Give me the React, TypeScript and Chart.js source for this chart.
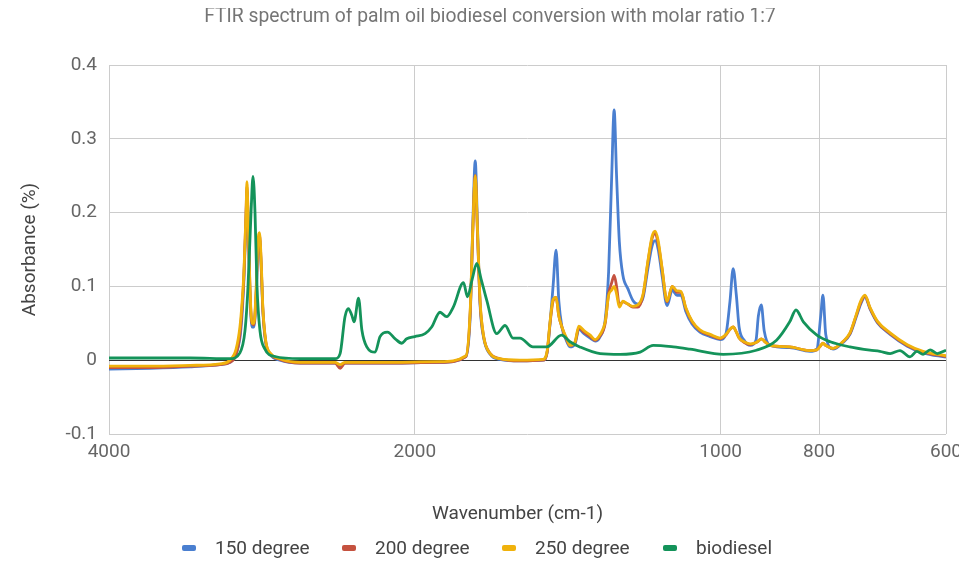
import { useEffect, useRef } from "react";
import { Chart, registerables } from "chart.js";

Chart.register(...registerables);

const TITLE = "FTIR spectrum of palm oil biodiesel conversion with molar ratio 1:7";
const X_TITLE = "Wavenumber (cm-1)";
const Y_TITLE = "Absorbance (%)";
const SERIES_NAMES = ["150 degree", "200 degree", "250 degree", "biodiesel"];
const SERIES_COLORS = ["#4a7fd0", "#c5523f", "#f0b20c", "#14935a"];
const X_TICKS = [4000, 2000, 1000, 800, 600];
const Y_TICKS = [-0.1, 0, 0.1, 0.2, 0.3, 0.4];

// wavenumbers shared by the three heated samples
const WN_HEATED = [
  4000, 3645, 3329, 3111, 3041, 2999, 2973, 2959, 2946, 2932,
  2926, 2919, 2906, 2893, 2880, 2867, 2854, 2844, 2834, 2822,
  2803, 2777, 2715, 2594, 2396, 2369, 2343, 2164, 1889, 1781,
  1764, 1754, 1744, 1735, 1725, 1711, 1686, 1649, 1576, 1496,
  1482, 1472, 1462, 1452, 1443, 1433, 1420, 1407, 1391, 1379,
  1363, 1344, 1329, 1314, 1299, 1289, 1280, 1273, 1266, 1258,
  1248, 1234, 1220, 1206, 1192, 1179, 1168, 1160, 1152, 1142,
  1129, 1116, 1104, 1094, 1082, 1067, 1048, 1024, 1001, 988,
  979, 972, 965, 959, 948, 935, 923, 918, 912, 906,
  894, 855, 817, 804, 797, 793, 788, 775, 758, 746,
  736, 728, 721, 713, 701, 681, 655, 632, 600,
];

const ABS_150 = [
  -0.012, -0.011, -0.009, -0.006, -0.003, 0.008, 0.03, 0.06, 0.11, 0.19,
  0.23, 0.19, 0.09, 0.045, 0.045, 0.08, 0.15, 0.165, 0.13, 0.065,
  0.022, 0.008, 0.0, -0.004, -0.004, -0.008, -0.004, -0.004, -0.003, 0.005,
  0.06, 0.18, 0.27, 0.18, 0.075, 0.03, 0.008, 0.001, -0.001, 0.0,
  0.01, 0.05, 0.1, 0.149, 0.08, 0.045, 0.028, 0.018, 0.022, 0.042,
  0.036, 0.03, 0.026, 0.032, 0.055, 0.12, 0.25, 0.339, 0.25, 0.16,
  0.115, 0.097, 0.081, 0.076, 0.085, 0.125, 0.155, 0.162, 0.15, 0.115,
  0.074, 0.095, 0.088, 0.088, 0.066, 0.049, 0.038, 0.032, 0.028, 0.036,
  0.08, 0.124, 0.088, 0.045, 0.027, 0.02, 0.027, 0.06, 0.075, 0.04,
  0.02, 0.017, 0.012, 0.015, 0.06, 0.088, 0.035, 0.015, 0.024, 0.035,
  0.057, 0.076, 0.086, 0.07, 0.051, 0.035, 0.019, 0.01, 0.004,
];

const ABS_200 = [
  -0.01, -0.01, -0.008, -0.006, -0.003, 0.008, 0.035, 0.07, 0.115, 0.2,
  0.235, 0.2, 0.095, 0.05, 0.048, 0.085, 0.155, 0.17, 0.135, 0.068,
  0.024, 0.009, 0.001, -0.004, -0.004, -0.011, -0.004, -0.004, -0.003, 0.005,
  0.065, 0.17, 0.25, 0.17, 0.078, 0.032, 0.009, 0.002, -0.001, 0.0,
  0.01, 0.05, 0.08, 0.085, 0.06, 0.045, 0.03, 0.02, 0.024, 0.044,
  0.038, 0.032, 0.027, 0.033, 0.05, 0.09, 0.105, 0.115, 0.1, 0.075,
  0.079, 0.076, 0.072, 0.072, 0.088, 0.133, 0.165, 0.172, 0.158, 0.124,
  0.079, 0.1, 0.092, 0.092, 0.07, 0.052, 0.04, 0.034, 0.029, 0.034,
  0.042, 0.045, 0.038, 0.03, 0.024, 0.021, 0.024, 0.026, 0.029, 0.026,
  0.02, 0.018, 0.013, 0.014, 0.02, 0.023, 0.02, 0.016, 0.025, 0.036,
  0.059, 0.078, 0.087, 0.071, 0.052, 0.036, 0.02, 0.011, 0.005,
];

const ABS_250 = [
  -0.008, -0.008, -0.007, -0.005, 0.0, 0.015, 0.045, 0.077, 0.12, 0.2,
  0.242, 0.2, 0.1, 0.05, 0.05, 0.09, 0.16, 0.173, 0.14, 0.07,
  0.025, 0.01, 0.002, -0.003, -0.003, -0.006, -0.003, -0.003, -0.002, 0.006,
  0.068, 0.175, 0.25, 0.175, 0.081, 0.032, 0.009, 0.002, 0.0, 0.001,
  0.012, 0.052, 0.082, 0.085, 0.06, 0.045, 0.032, 0.02, 0.025, 0.046,
  0.04, 0.034, 0.028, 0.035, 0.052, 0.088, 0.095, 0.1, 0.09, 0.072,
  0.08, 0.076, 0.073, 0.075, 0.09, 0.135, 0.168, 0.175, 0.162, 0.125,
  0.08, 0.1, 0.094, 0.093, 0.071, 0.053, 0.041, 0.035, 0.03, 0.035,
  0.042, 0.045, 0.038, 0.03, 0.025, 0.022, 0.024, 0.026, 0.029, 0.026,
  0.02, 0.018, 0.013, 0.014, 0.02, 0.023, 0.02, 0.016, 0.025, 0.037,
  0.06, 0.08, 0.088, 0.072, 0.053, 0.037, 0.021, 0.012, 0.006,
];

const WN_BIO = [
  4000, 3329, 3041, 2973, 2939, 2919, 2899, 2886, 2873, 2860,
  2841, 2809, 2746, 2594, 2396, 2369, 2343, 2325, 2307, 2295,
  2272, 2255, 2230, 2188, 2164, 2128, 2091, 2060, 2037, 2000,
  1954, 1925, 1889, 1861, 1833, 1791, 1775, 1756, 1738, 1721,
  1699, 1661, 1630, 1601, 1576, 1530, 1483, 1434, 1407, 1376,
  1314, 1256, 1200, 1165, 1113, 1072, 994, 922, 881, 855,
  843, 829, 804, 780, 746, 713, 697, 681, 666, 651,
  641, 632, 622, 612, 600,
];

const ABS_BIO = [
  0.003, 0.003, 0.002, 0.01, 0.04, 0.1, 0.2, 0.249, 0.2, 0.1,
  0.04, 0.015, 0.005, 0.002, 0.002, 0.009, 0.059, 0.07, 0.061, 0.052,
  0.084, 0.041, 0.018, 0.011, 0.032, 0.038, 0.029, 0.023, 0.029, 0.032,
  0.036, 0.045, 0.065, 0.059, 0.072, 0.105, 0.086, 0.11, 0.131, 0.11,
  0.081, 0.036, 0.047, 0.03, 0.03, 0.018, 0.018, 0.034, 0.025, 0.018,
  0.009, 0.008, 0.011, 0.02, 0.018, 0.015, 0.008, 0.0135, 0.027, 0.052,
  0.068, 0.052, 0.034, 0.025, 0.018, 0.0135, 0.012, 0.009, 0.013, 0.0045,
  0.012, 0.008, 0.014, 0.009, 0.0135,
];

const FONT = "Roboto, 'Noto Sans', sans-serif";

const pairs = (xs: number[], ys: number[]) => xs.map((x, i) => ({ x, y: ys[i] }));

const textPlugin = {
  id: "textPlugin",
  afterDraw(chart: any) {
    const { ctx, chartArea } = chart;
    ctx.save();
    // title
    ctx.fillStyle = "#757575";
    ctx.font = `19.3px ${FONT}`;
    ctx.textAlign = "center";
    ctx.textBaseline = "alphabetic";
    ctx.fillText(TITLE, 482, 14);
    // x axis title
    ctx.fillStyle = "#444444";
    ctx.font = `19px ${FONT}`;
    ctx.fillText(X_TITLE, (chartArea.left + chartArea.right) / 2 - 10, 511);
    // y axis title
    ctx.save();
    ctx.translate(22, (chartArea.top + chartArea.bottom) / 2);
    ctx.rotate(-Math.PI / 2);
    ctx.textBaseline = "middle";
    ctx.fillText(Y_TITLE, 0, 0);
    ctx.restore();
    // legend
    const legendX = [174, 334, 494, 655];
    const ly = 540;
    ctx.textAlign = "left";
    ctx.textBaseline = "middle";
    SERIES_NAMES.forEach((name, i) => {
      ctx.fillStyle = SERIES_COLORS[i];
      ctx.beginPath();
      if (ctx.roundRect) ctx.roundRect(legendX[i], ly - 3, 14, 6, 2);
      else ctx.rect(legendX[i], ly - 3, 14, 6);
      ctx.fill();
      ctx.fillStyle = "#444444";
      ctx.font = `19px ${FONT}`;
      ctx.fillText(name, legendX[i] + 33, ly + 1);
    });
    ctx.restore();
  },
};

export default function App() {
  const ref = useRef<HTMLCanvasElement>(null);
  useEffect(() => {
    const canvas = ref.current;
    if (!canvas) return;
    const seriesData = [
      pairs(WN_HEATED, ABS_150),
      pairs(WN_HEATED, ABS_200),
      pairs(WN_HEATED, ABS_250),
      pairs(WN_BIO, ABS_BIO),
    ];
    const chart = new Chart(canvas, {
      type: "line",
      data: {
        datasets: SERIES_NAMES.map((name, i) => ({
          label: name,
          data: seriesData[i],
          borderColor: SERIES_COLORS[i],
          backgroundColor: SERIES_COLORS[i],
          borderWidth: 2.8,
          pointRadius: 0,
          fill: false,
          cubicInterpolationMode: "monotone" as const,
          borderJoinStyle: "round" as const,
          order: 4 - i,
        })),
      },
      options: {
        animation: false,
        responsive: false,
        maintainAspectRatio: false,
        layout: { padding: { top: 57, right: 13, bottom: 0, left: 0 } },
        plugins: {
          legend: { display: false },
          title: { display: false },
          tooltip: { enabled: false },
        },
        scales: {
          x: {
            type: "logarithmic",
            reverse: true,
            min: 600,
            max: 4000,
            afterBuildTicks: (s: any) => {
              s.ticks = X_TICKS.map((v) => ({ value: v }));
            },
            afterFit: (s: any) => {
              s.height = 131;
              s.paddingLeft = 0;
              s.paddingRight = 0;
            },
            border: { display: false },
            grid: { color: "#cccccc", lineWidth: 1, drawTicks: false },
            ticks: {
              autoSkip: false,
              maxRotation: 0,
              minRotation: 0,
              padding: 7,
              color: "#666666",
              font: { family: FONT, size: 19 },
              callback: (v: any) => String(v),
            },
          },
          y: {
            type: "linear",
            min: -0.1,
            max: 0.4,
            afterBuildTicks: (s: any) => {
              s.ticks = Y_TICKS.map((v) => ({ value: v }));
            },
            afterFit: (s: any) => {
              s.width = 101;
              s.paddingTop = 0;
              s.paddingBottom = 0;
            },
            border: { display: false },
            grid: {
              drawTicks: false,
              lineWidth: 1,
              color: (c: any) => (c.tick && Math.abs(c.tick.value) < 1e-9 ? "#333333" : "#cccccc"),
            },
            ticks: {
              padding: 12,
              color: "#666666",
              font: { family: FONT, size: 19 },
              callback: (v: any) => (Math.abs(Number(v)) < 1e-9 ? "0" : Number(v).toFixed(1)),
            },
          },
        },
      },
      plugins: [textPlugin],
    } as any);
    return () => chart.destroy();
  }, []);
  return (
    <div style={{ width: 951, height: 557 }}>
      <canvas ref={ref} width={951} height={557} style={{ display: "block" }} />
    </div>
  );
}
